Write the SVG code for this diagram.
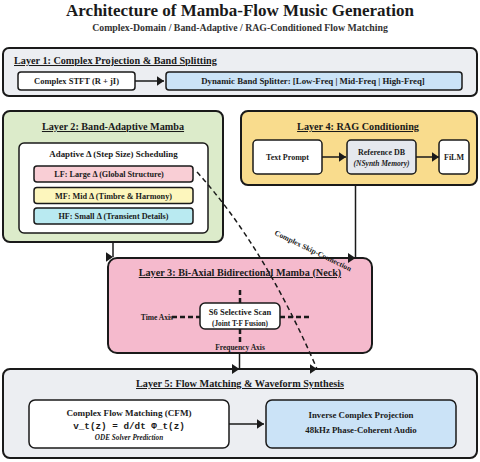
<svg xmlns="http://www.w3.org/2000/svg" width="480" height="462" viewBox="0 0 480 462">
<defs>
<style>
text{font-family:"Liberation Serif","Times New Roman",serif;font-weight:bold;fill:#1a1a1a}
.mid{text-anchor:middle}
.layer{stroke:#1a1a1a;stroke-width:2}
.box{stroke:#1a1a1a;stroke-width:1.5}
.lt{font-size:10.2px;text-decoration:underline}
.t8{font-size:8px}
.t75{font-size:7.5px}
.t85{font-size:8.5px}
.it{font-style:italic}
.mono{font-family:"Liberation Mono","Courier New",monospace;font-size:9.3px}
.conn{fill:none;stroke:#1a1a1a;stroke-width:1.5}
.dash{fill:none;stroke:#1a1a1a;stroke-width:1.5;stroke-dasharray:5,3.5}
.axis{fill:none;stroke:#1a1a1a;stroke-width:2.5;stroke-dasharray:5,3}
</style>
<marker id="ah" markerUnits="userSpaceOnUse" markerWidth="8" markerHeight="10" refX="7.5" refY="5">
<path d="M0,0 L7.5,5 L0,10 z" fill="#1a1a1a"/>
</marker>
</defs>
<rect width="480" height="462" fill="#ffffff"/>
<g id="title">
<text x="240" y="16" class="mid" style="font-size:17px">Architecture of Mamba-Flow Music Generation</text>
<text x="240" y="31" class="mid" style="font-size:9.8px;fill:#333">Complex-Domain / Band-Adaptive / RAG-Conditioned Flow Matching</text>
</g>
<g id="layer1">
<rect x="3" y="48" width="474" height="48" rx="6" fill="#eceef2" class="layer"/>
<text x="14" y="64" class="lt">Layer 1: Complex Projection &amp; Band Splitting</text>
</g>
<g id="stft">
<rect x="18" y="72" width="117" height="18" rx="3" fill="#ffffff" class="box"/>
<text x="76.5" y="84.3" class="mid t85">Complex STFT (R + jI)</text>
</g>
<g id="splitter">
<rect x="166" y="72" width="296" height="18" rx="3" fill="#cbe3f7" class="box"/>
<text x="313" y="84.3" class="mid" style="font-size:8.8px">Dynamic Band Splitter: [Low-Freq | Mid-Freq | High-Freq]</text>
</g>
<g id="layer2">
<rect x="3" y="111" width="220" height="131" rx="7" fill="#dcebca" class="layer"/>
<text x="113" y="130" class="mid lt">Layer 2: Band-Adaptive Mamba</text>
</g>
<g id="scheduling">
<rect x="19" y="143" width="189" height="90" rx="5" fill="#ffffff" class="box"/>
<text x="113.5" y="156.5" class="mid" style="font-size:8.9px">Adaptive Δ (Step Size) Scheduling</text>
</g>
<g id="lf">
<rect x="34" y="166" width="159" height="16" rx="3" fill="#f9ced5" class="box"/>
<text x="109" y="177" class="mid" style="font-size:8.2px">LF: Large Δ (Global Structure)</text>
</g>
<g id="mf">
<rect x="34" y="187.5" width="159" height="16" rx="3" fill="#fdf6bd" class="box"/>
<text x="113.5" y="198.5" class="mid" style="font-size:8.2px">MF: Mid Δ (Timbre &amp; Harmony)</text>
</g>
<g id="hf">
<rect x="34" y="208" width="159" height="16" rx="3" fill="#b9eaf1" class="box"/>
<text x="113.5" y="219" class="mid" style="font-size:8.2px">HF: Small Δ (Transient Details)</text>
</g>
<g id="layer4">
<rect x="241" y="111" width="236" height="74" rx="7" fill="#f9dc8d" class="layer"/>
<text x="358" y="130" class="mid lt">Layer 4: RAG Conditioning</text>
</g>
<g id="textprompt">
<rect x="253" y="140" width="69" height="34" rx="4" fill="#ffffff" class="box"/>
<text x="287.5" y="160" class="mid t8">Text Prompt</text>
</g>
<g id="refdb">
<rect x="347" y="140" width="69" height="34" rx="4" fill="#e5e8ee" class="box"/>
<text x="381.5" y="155" class="mid t8">Reference DB</text>
<text x="381.5" y="165.5" class="mid t75 it">(NSynth Memory)</text>
</g>
<g id="film">
<rect x="439" y="140" width="30" height="34" rx="4" fill="#ffffff" class="box"/>
<text x="454" y="160" class="mid t8">FiLM</text>
</g>
<g id="layer3">
<rect x="108" y="258" width="264" height="95" rx="9" fill="#f5bacd" class="layer"/>
<text x="240" y="276" class="mid lt">Layer 3: Bi-Axial Bidirectional Mamba (Neck)</text>
<path d="M172,317 H200 M280,317 H309 M240,290 V303 M240,329 V343" class="axis"/>
<text x="173" y="319.5" class="t75" style="text-anchor:end">Time Axis</text>
<text x="240" y="350" class="mid t75">Frequency Axis</text>
</g>
<g id="s6">
<rect x="200" y="303" width="80" height="26" rx="5" fill="#ffffff" class="box"/>
<text x="240" y="315" class="mid t85">S6 Selective Scan</text>
<text x="240" y="325.5" class="mid" style="font-size:7.3px">(Joint T-F Fusion)</text>
</g>
<g id="layer5">
<rect x="3" y="369" width="474" height="89" rx="7" fill="#eceef2" class="layer"/>
<text x="240" y="387" class="mid lt">Layer 5: Flow Matching &amp; Waveform Synthesis</text>
</g>
<g id="cfm">
<rect x="29" y="400" width="200" height="48" rx="6" fill="#ffffff" class="box"/>
<text x="129" y="416" class="mid" style="font-size:9.1px">Complex Flow Matching (CFM)</text>
<text x="129" y="429" class="mid mono">v_t(z) = d/dt Φ_t(z)</text>
<text x="129" y="439.5" class="mid it" style="font-size:7.2px">ODE Solver Prediction</text>
</g>
<g id="inverse">
<rect x="266" y="400" width="190" height="48" rx="6" fill="#cbe3f7" class="box"/>
<text x="361" y="418" class="mid" style="font-size:8.8px">Inverse Complex Projection</text>
<text x="361" y="433" class="mid" style="font-size:8.8px">48kHz Phase-Coherent Audio</text>
</g>
<g id="connectors">
<path d="M135,81 H164" class="conn" marker-end="url(#ah)"/>
<path d="M322,157 H346" class="conn" marker-end="url(#ah)"/>
<path d="M416,157 H439" class="conn" marker-end="url(#ah)"/>
<path d="M229,424 H264" class="conn" marker-end="url(#ah)"/>
<path d="M113,242 V257" class="conn" marker-end="url(#ah)"/>
<path d="M355.5,185 V258" class="conn" marker-end="url(#ah)"/>
<path d="M239.5,353 V369" class="conn" marker-end="url(#ah)"/>
<path d="M197,172 Q264,246 317,369" class="dash" marker-end="url(#ah)"/>
<text transform="translate(312,253) rotate(26)" class="mid t75">Complex Skip-Connection</text>
</g>
</svg>
